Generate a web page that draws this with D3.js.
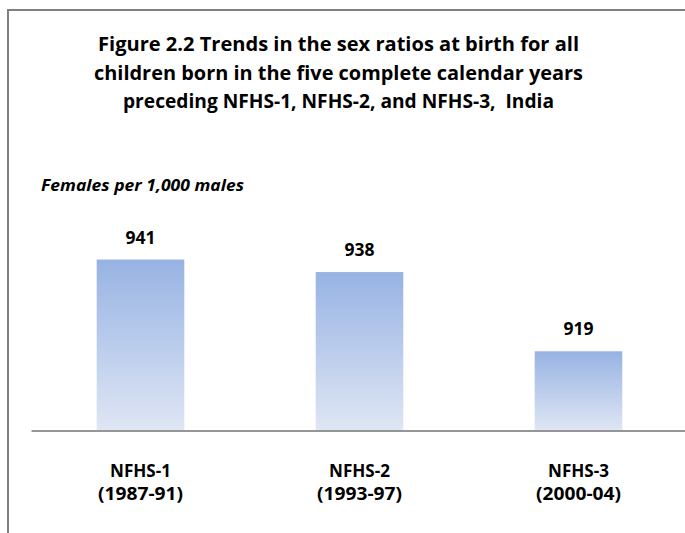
<!DOCTYPE html>
<html>
<head>
<meta charset="utf-8">
<script src="https://cdn.jsdelivr.net/npm/d3@7"></script>
<style>
  html, body { margin: 0; padding: 0; background: #fff; }
  svg { display: block; }
  text { font-family: "Open Sans", Lato, "Liberation Sans", sans-serif; fill: #000; white-space: pre; }
</style>
</head>
<body>
<script>
// ---- data ----
const categories = ["NFHS-1", "NFHS-2", "NFHS-3"];
const periods = ["(1987-91)", "(1993-97)", "(2000-04)"];
const values = [941, 938, 919];
const titleLines = [
  "Figure 2.2 Trends in the sex ratios at birth for all",
  "children born in the five complete calendar years",
  "preceding NFHS-1, NFHS-2, and NFHS-3,  India"
];
const yLabel = "Females per 1,000 males";

// ---- layout ----
const W = 685, H = 533;
const svg = d3.select("body").append("svg").attr("width", W).attr("height", H);

const defs = svg.append("defs");
const grad = defs.append("linearGradient").attr("id", "barGrad")
  .attr("x1", 0).attr("y1", 0).attr("x2", 0).attr("y2", 1);
grad.append("stop").attr("offset", "0%").attr("stop-color", "#97B3E3");
grad.append("stop").attr("offset", "100%").attr("stop-color", "#DFE6F4");

// frame (top and left borders)
svg.append("line").attr("x1", 8).attr("x2", W).attr("y1", 10).attr("y2", 10)
  .attr("stroke", "#808080").attr("stroke-width", 2);
svg.append("line").attr("x1", 8).attr("x2", 8).attr("y1", 9).attr("y2", H)
  .attr("stroke", "#808080").attr("stroke-width", 2);

// title
const titleY = [51, 80, 108];
const titleW = [481, 489, 431];
svg.append("g").selectAll("text").data(titleLines).join("text")
  .attr("x", 338.5).attr("y", (d, i) => titleY[i])
  .attr("text-anchor", "middle")
  .attr("font-size", 19.5).attr("font-weight", "bold")
  .attr("textLength", (d, i) => titleW[i]).attr("lengthAdjust", "spacingAndGlyphs")
  .text(d => d);

// y label
svg.append("text").attr("x", 41).attr("y", 191)
  .attr("font-size", 16.5).attr("font-weight", "bold").attr("font-style", "italic")
  .attr("textLength", 203).attr("lengthAdjust", "spacingAndGlyphs")
  .text(yLabel);

// scales
const x = d3.scaleBand().domain(categories).range([31, 688])
  .paddingInner(0.6).paddingOuter(0.3);
const y = d3.scaleLinear().domain([900, 950]).range([430.5, 222]);

// bars
svg.append("g").selectAll("rect").data(values).join("rect")
  .attr("x", (d, i) => x(categories[i]))
  .attr("width", x.bandwidth())
  .attr("y", d => y(d))
  .attr("height", d => y(900) - y(d))
  .attr("fill", "url(#barGrad)");

// value labels
svg.append("g").selectAll("text").data(values).join("text")
  .attr("x", (d, i) => x(categories[i]) + x.bandwidth() / 2)
  .attr("y", d => y(d) - 16)
  .attr("text-anchor", "middle")
  .attr("font-size", 17).attr("font-weight", "bold")
  .attr("textLength", 30).attr("lengthAdjust", "spacingAndGlyphs")
  .text(d => d);

// x axis
const axis = svg.append("g").attr("transform", `translate(0,${y(900)})`)
  .call(d3.axisBottom(x).tickSize(0).tickSizeOuter(0).tickPadding(0));
axis.select(".domain").attr("stroke", "#969696").attr("stroke-width", 2);
axis.selectAll(".tick text").each(function(d) {
  const t = d3.select(this);
  t.text(null).attr("y", 0).attr("dy", null)
    .attr("font-family", "'Open Sans', Lato, sans-serif")
    .attr("font-size", 18).attr("font-weight", "bold").attr("fill", "#000");
  t.append("tspan").attr("x", 0).attr("y", 46)
    .attr("textLength", 61).attr("lengthAdjust", "spacingAndGlyphs").text(d);
  t.append("tspan").attr("x", 0).attr("y", 69.5)
    .attr("textLength", 85).attr("lengthAdjust", "spacingAndGlyphs")
    .text(periods[categories.indexOf(d)]);
});
</script>
</body>
</html>
